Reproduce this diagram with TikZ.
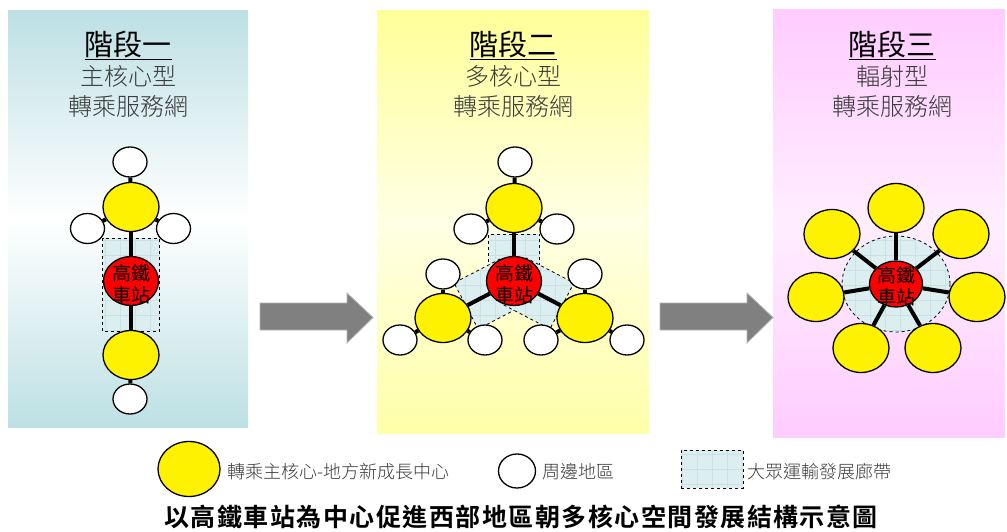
\documentclass[tikz,border=0pt]{standalone}
\usepackage{fontspec}
\setmainfont{Noto Sans CJK TC}
\newfontfamily\captionfont[LetterSpace=6]{Noto Sans CJK TC Bold}
\newfontfamily\thinfont{Noto Sans CJK TC Light}
\usetikzlibrary{shapes.geometric,calc}

\definecolor{stageteal}{RGB}{189,224,228}
\definecolor{stageyellow}{RGB}{255,255,153}
\definecolor{stagepink}{RGB}{255,204,255}
\definecolor{corrfill}{RGB}{221,238,240}
\definecolor{corrgrid}{RGB}{200,226,230}
\definecolor{subgray}{RGB}{58,58,58}
\definecolor{arrowgray}{RGB}{128,128,128}

\pgfdeclarelayer{panel}
\pgfdeclarelayer{band}
\pgfdeclarelayer{wire}
\pgfsetlayers{panel,band,wire,main}

% band from a station to the rim of a hub
\newcommand\corridorband[3]{%
  \coordinate (#2end) at ($(#2)!26pt!(#1)$);
  \path[corridor] ($(#1)!#3!90:(#2)$) -- ($(#1)!#3!-90:(#2)$)
    -- ($(#2end)!#3!90:(#1)$) -- ($(#2end)!#3!-90:(#1)$) -- cycle;}

\begin{document}
\begin{tikzpicture}[x=1pt, y=-1pt,
  hub/.style={ellipse, draw, line width=1.3pt, fill=yellow, inner sep=0pt,
    minimum width=56pt, minimum height=49pt},
  fringe/.style={ellipse, draw, line width=1.3pt, fill=white, inner sep=0pt,
    minimum width=34pt, minimum height=30pt},
  station/.style={ellipse, draw, line width=1.3pt, fill=red, inner sep=0pt,
    minimum width=55pt, minimum height=49pt},
  stationtext/.style={align=center, inner sep=0pt, font=\fontsize{19}{22}\selectfont},
  spoke/.style={line width=4pt},
  corridor/.style={draw, dashed, line width=0.8pt, fill=corrfill,
    path picture={\draw[corrgrid, line width=0.3pt, solid]
      (path picture bounding box.south west) grid[step=15pt]
      (path picture bounding box.north east);}},
  stagetitle/.style={font=\fontsize{29}{32}\selectfont, inner sep=0pt},
  stagesub/.style={text=subgray, font=\thinfont\fontsize{24}{28}\selectfont, inner sep=0pt},
  legendtext/.style={text=subgray, font=\thinfont\fontsize{18}{20}\selectfont, inner sep=0pt, anchor=west},
  bigarrow/.style={fill=arrowgray, draw=arrowgray!60, line width=0.8pt}
]
  \useasboundingbox (0,0) rectangle (1007,532);

  %%%%%%%%%%%%%%%%%%%%%%%%%%%%%%%%%%%%%%%%%%%%%%%%%
  % Stage panels
  \begin{pgfonlayer}{panel}
    \fill[top color=stageteal, bottom color=stageteal, middle color=white]
      (8,11) rectangle (248,427);
    \fill[top color=stageyellow, bottom color=stageyellow!85!white,
      middle color={rgb,255:red,255;green,255;blue,228}]
      (377,11) rectangle (649,433);
    \fill[top color=stagepink, bottom color=stagepink,
      middle color={rgb,255:red,255;green,238;blue,255}]
      (773,10) rectangle (1005,437);
  \end{pgfonlayer}

  % Arrows between stages
  \foreach \ax in {260,660}
    \filldraw[bigarrow] (\ax,303) -- ++(87,0) -- ++(0,-10) -- ++(26,24.5)
      -- ++(-26,25.5) -- ++(0,-13) -- ++(-87,0) -- cycle;

  %%%%%%%%%%%%%%%%%%%%%%%%%%%%%%%%%%%%%%%%%%%%%%%%%
  % Stage one
  \node[stagetitle] (t1) at (128,45) {\underline{階段一}};
  \node[stagesub] (s1) at (128,76) {主核心型};
  \node[stagesub] (n1) at (128,106) {轉乘服務網};

  \node[fringe] (w1t) at (130,162) {};
  \node[hub] (y1t) at (131,207) {};
  \node[fringe] (w1l) at (87.5,228.5) {};
  \node[fringe] (w1r) at (173.5,228.5) {};
  \node[station] (r1) at (131,281) {};
  \node[stationtext] (r1t) at (131,284) {高鐵\\車站};
  \node[hub] (y1b) at (131,355) {};
  \node[fringe] (w1b) at (130,399) {};

  \begin{pgfonlayer}{band}
    \path[corridor] ($(y1t.south)+(-28.5,6)$) rectangle ($(y1b.north)+(28.5,1.5)$);
  \end{pgfonlayer}
  \begin{pgfonlayer}{wire}
    \foreach \a/\b in {y1t/r1, r1/y1b, y1t/w1t, y1t/w1l, y1t/w1r, y1b/w1b}
      \draw[spoke] (\a) -- (\b);
  \end{pgfonlayer}

  %%%%%%%%%%%%%%%%%%%%%%%%%%%%%%%%%%%%%%%%%%%%%%%%%
  % Stage two
  \node[stagetitle] (t2) at (513,45) {\underline{階段二}};
  \node[stagesub] (s2) at (513,76) {多核心型};
  \node[stagesub] (n2) at (513,106) {轉乘服務網};

  \node[fringe] (w2t) at (515,162) {};
  \node[hub] (y2t) at (514,208) {};
  \node[fringe] (w2tl) at (471,229) {};
  \node[fringe] (w2tr) at (557,229) {};
  \node[station] (r2) at (514,281) {};
  \node[stationtext] (r2t) at (514,284) {高鐵\\車站};
  \node[hub] (y2l) at (443,318) {};
  \node[hub] (y2r) at (585,318) {};
  \node[fringe] (w2la) at (443,274) {};
  \node[fringe] (w2ll) at (400,340) {};
  \node[fringe] (w2lr) at (485,340) {};
  \node[fringe] (w2ra) at (585,274) {};
  \node[fringe] (w2rl) at (541,340) {};
  \node[fringe] (w2rr) at (627,340) {};

  \begin{pgfonlayer}{band}
    \corridorband{r2}{y2t}{25.5pt}
    \corridorband{r2}{y2l}{26pt}
    \corridorband{r2}{y2r}{26pt}
  \end{pgfonlayer}
  \begin{pgfonlayer}{wire}
    \foreach \a/\b in {r2/y2t, r2/y2l, r2/y2r, y2t/w2t, y2t/w2tl, y2t/w2tr,
        y2l/w2la, y2l/w2ll, y2l/w2lr, y2r/w2ra, y2r/w2rl, y2r/w2rr}
      \draw[spoke] (\a) -- (\b);
  \end{pgfonlayer}

  %%%%%%%%%%%%%%%%%%%%%%%%%%%%%%%%%%%%%%%%%%%%%%%%%
  % Stage three
  \node[stagetitle] (t3) at (892,45) {\underline{階段三}};
  \node[stagesub] (s3) at (892,76) {輻射型};
  \node[stagesub] (n3) at (892,106) {轉乘服務網};

  \node[station, minimum width=53pt, minimum height=46pt] (r3) at (896,284) {};
  \node[stationtext] (r3t) at (896,286) {高鐵\\車站};
  \node[hub] (y3a) at (896,208) {};
  \node[hub] (y3b) at (832,234) {};
  \node[hub] (y3c) at (961,234) {};
  \node[hub] (y3d) at (816,297) {};
  \node[hub] (y3e) at (977,297) {};
  \node[hub] (y3f) at (861,348) {};
  \node[hub] (y3g) at (933,348) {};

  \begin{pgfonlayer}{band}
    \path[corridor] (r3) ellipse [x radius=54pt, y radius=48pt];
  \end{pgfonlayer}
  \begin{pgfonlayer}{wire}
    \foreach \n in {y3a,y3b,y3c,y3d,y3e,y3f,y3g}
      \draw[spoke] (r3) -- (\n);
  \end{pgfonlayer}

  %%%%%%%%%%%%%%%%%%%%%%%%%%%%%%%%%%%%%%%%%%%%%%%%%
  % Legend
  \node[hub, minimum width=62pt, minimum height=55pt] (lghub) at (189,469) {};
  \node[legendtext] (lghubt) at (227,472) {轉乘主核心-地方新成長中心};
  \node[fringe, minimum width=37pt, minimum height=34pt] (lgfr) at (517,471) {};
  \node[legendtext] (lgfrt) at (542,472) {周邊地區};
  \node[corridor, minimum width=62pt, minimum height=38pt, inner sep=0pt] (lgco) at (712,469) {};
  \node[legendtext] (lgcot) at (747,472) {大眾運輸發展廊帶};

  % Caption
  \node[font=\captionfont\fontsize{25}{28}\selectfont, inner sep=0pt] (cap) at (521,517)
    {以高鐵車站為中心促進西部地區朝多核心空間發展結構示意圖};

\end{tikzpicture}
\end{document}
